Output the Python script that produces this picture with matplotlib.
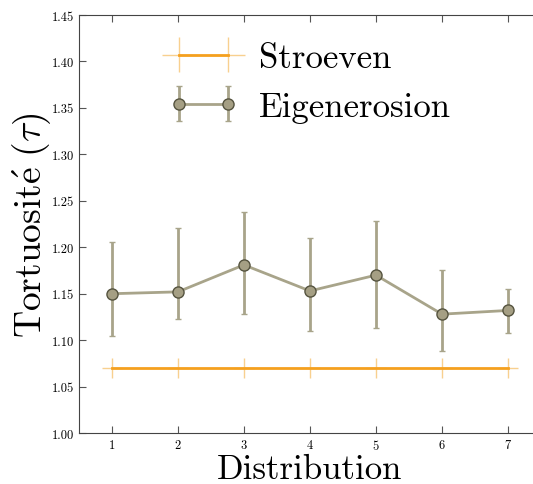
import numpy as np
import matplotlib
matplotlib.use('Agg')
import matplotlib.pyplot as plt

plt.rcParams['font.family'] = ['cmr10', 'DejaVu Serif']
plt.rcParams['mathtext.fontset'] = 'cm'
plt.rcParams['axes.formatter.use_mathtext'] = True

# data
distribution = [1, 2, 3, 4, 5, 6, 7]
eigen = [1.150, 1.152, 1.181, 1.153, 1.170, 1.128, 1.132]
eigen_hi = [1.206, 1.221, 1.238, 1.210, 1.228, 1.176, 1.155]
eigen_lo = [1.105, 1.123, 1.128, 1.110, 1.113, 1.088, 1.108]
stroeven = [1.07, 1.07, 1.07, 1.07, 1.07, 1.07, 1.07]
stroeven_err = 0.011
stroeven_xerr = 0.15

eigen = np.array(eigen)
yerr = [eigen - np.array(eigen_lo), np.array(eigen_hi) - eigen]

fig = plt.figure(figsize=(5.33, 4.85), dpi=100)
ax = fig.add_axes([0.148, 0.105, 0.867, 0.862])

ax.errorbar(distribution, stroeven, yerr=stroeven_err, xerr=stroeven_xerr,
            color='#f5a01e', ecolor='#f8d08f', elinewidth=1, lw=2,
            label='Stroeven', zorder=2)
ax.errorbar(distribution, eigen, yerr=yerr, color='#a8a48a', ecolor='#a8a48a',
            lw=2, elinewidth=2, capsize=2, capthick=1.5, marker='o', ms=8,
            mfc='#a59f84', mec='#55533f', mew=1, label='Eigenerosion', zorder=3)

ax.set_xlim(0.5, 7.5)
ax.set_ylim(1.0, 1.45)
ax.set_xticks(distribution)
ax.set_yticks(np.arange(1.0, 1.451, 0.05))
ax.set_yticklabels(['%.2f' % v for v in np.arange(1.0, 1.451, 0.05)])
ax.tick_params(direction='in', top=True, right=True, labelsize=9, length=5,
               color='#555555')
for s in ax.spines.values():
    s.set_color('#444444')

ax.set_xlabel('Distribution', fontsize=25, labelpad=1)
ax.set_ylabel(r'$\mathrm{Tortuosit\acute{e}}\ (\tau)$', fontsize=27, labelpad=-1)

ax.legend(loc='upper center', bbox_to_anchor=(0.50, 1.01), frameon=False,
          fontsize=25, handlelength=2.0, handletextpad=0.6, labelspacing=0.5,
          numpoints=2)

fig.savefig('out.png', dpi=100)
